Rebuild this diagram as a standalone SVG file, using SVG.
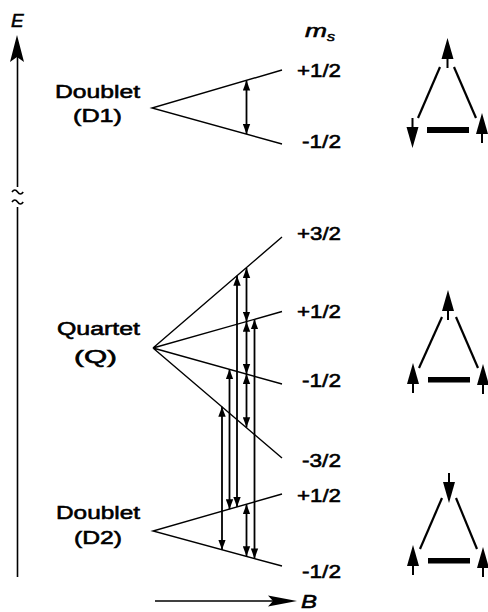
<svg xmlns="http://www.w3.org/2000/svg" xmlns:xlink="http://www.w3.org/1999/xlink" width="488" height="612" viewBox="0 0 488 612">
<style>
.lvl{stroke:#000;stroke-width:1.4;fill:none}
.ax{stroke:#000;stroke-width:1.6;fill:none}
.tr{stroke:#000;stroke-width:1.8;fill:none;marker-start:url(#ah);marker-end:url(#ah)}
.tri{stroke:#000;stroke-width:2.2;fill:none}
.lab{font-family:"Liberation Sans",Arial,sans-serif;font-size:18px;fill:#000;stroke:#000;stroke-width:0.55}
.it{font-style:italic}
</style>
<defs>
<marker id="ah" markerUnits="userSpaceOnUse" markerWidth="11" markerHeight="8" refX="10" refY="4" orient="auto-start-reverse">
<path d="M0,0.3 L10,4 L0,7.7 Z" fill="#000"/>
</marker>
<g id="spin">
<polygon points="0,0 -6,21 6,21" fill="#000"/>
<line x1="0" y1="18" x2="0" y2="30" stroke="#000" stroke-width="2"/>
</g>
</defs>
<rect width="488" height="612" fill="#fff"/>

<g id="axis-E">
<polygon points="17,35 10,62 17,57 24,62" fill="#000"/>
<line class="ax" x1="17.5" y1="57" x2="17.5" y2="187"/>
<path class="ax" d="M12,192 q2.8,-4 5.6,0 t5.6,0"/>
<path class="ax" d="M12,202 q2.8,-4 5.6,0 t5.6,0"/>
<line class="ax" x1="17.5" y1="207" x2="17.5" y2="577"/>
<text class="lab it" x="11" y="27" style="font-size:19px">E</text>
</g>

<g id="axis-B">
<line class="ax" x1="155" y1="601" x2="274" y2="601"/>
<polygon points="297,601 268,595.5 273,601 268,606.5" fill="#000"/>
<text class="lab it" x="301" y="608" style="font-size:19px" textLength="16" lengthAdjust="spacingAndGlyphs">B</text>
</g>

<g id="ms-label">
<text class="lab it" x="305" y="37" textLength="22" lengthAdjust="spacingAndGlyphs">m</text>
<text class="lab it" x="327" y="41" style="font-size:13px" textLength="8" lengthAdjust="spacingAndGlyphs">s</text>
</g>

<g id="D1">
<path class="lvl" d="M282,70 L152,108 L282,144"/>
<text class="lab" x="55" y="97.5" textLength="85" lengthAdjust="spacingAndGlyphs">Doublet</text>
<text class="lab" x="73" y="121.5" textLength="49" lengthAdjust="spacingAndGlyphs">(D1)</text>
<text class="lab" x="297" y="77" textLength="44" lengthAdjust="spacingAndGlyphs">+1/2</text>
<text class="lab" x="302" y="148" textLength="39" lengthAdjust="spacingAndGlyphs">-1/2</text>
</g>

<g id="Q">
<path class="lvl" d="M282,237 L153,348 L282,311.5 M153,348 L282,384 M153,348 L282,458"/>
<text class="lab" x="57" y="335" textLength="83" lengthAdjust="spacingAndGlyphs">Quartet</text>
<text class="lab" x="74" y="362.5" textLength="43" lengthAdjust="spacingAndGlyphs">(Q)</text>
<text class="lab" x="297" y="240" textLength="44" lengthAdjust="spacingAndGlyphs">+3/2</text>
<text class="lab" x="297" y="318" textLength="44" lengthAdjust="spacingAndGlyphs">+1/2</text>
<text class="lab" x="302" y="387" textLength="39" lengthAdjust="spacingAndGlyphs">-1/2</text>
<text class="lab" x="302" y="467" textLength="39" lengthAdjust="spacingAndGlyphs">-3/2</text>
</g>

<g id="D2">
<path class="lvl" d="M282,494 L153,531 L282,566"/>
<text class="lab" x="56" y="519" textLength="84" lengthAdjust="spacingAndGlyphs">Doublet</text>
<text class="lab" x="74" y="544" textLength="48" lengthAdjust="spacingAndGlyphs">(D2)</text>
<text class="lab" x="297" y="502" textLength="44" lengthAdjust="spacingAndGlyphs">+1/2</text>
<text class="lab" x="302" y="578" textLength="39" lengthAdjust="spacingAndGlyphs">-1/2</text>
</g>

<g id="transitions">
<line class="tr" x1="246.5" y1="80.5" x2="246.5" y2="134"/>
<line class="tr" x1="246.5" y1="268" x2="246.5" y2="321.7"/>
<line class="tr" x1="246.5" y1="321.7" x2="246.5" y2="374"/>
<line class="tr" x1="246.5" y1="374" x2="246.5" y2="427.3"/>
<line class="tr" x1="246.5" y1="504.3" x2="246.5" y2="556.2"/>
<line class="tr" x1="237" y1="275.7" x2="237" y2="506.9"/>
<line class="tr" x1="229.5" y1="369.2" x2="229.5" y2="509.2"/>
<line class="tr" x1="222" y1="406.8" x2="222" y2="549.7"/>
<line class="tr" x1="254.5" y1="319.4" x2="254.5" y2="558.4"/>
</g>

<g id="spin-D1">
<line class="tri" x1="440" y1="67" x2="418" y2="118"/>
<line class="tri" x1="454" y1="67" x2="476" y2="118"/>
<rect x="427" y="127" width="42" height="6" fill="#000"/>
<use xlink:href="#spin" x="447.5" y="38"/>
<use xlink:href="#spin" transform="translate(412.5,148) rotate(180)"/>
<use xlink:href="#spin" x="482" y="113"/>
</g>

<g id="spin-Q">
<line class="tri" x1="442" y1="317" x2="419" y2="368"/>
<line class="tri" x1="456" y1="317" x2="478" y2="368"/>
<rect x="428" y="377" width="42" height="5.5" fill="#000"/>
<use xlink:href="#spin" x="448" y="290"/>
<use xlink:href="#spin" x="413" y="363"/>
<use xlink:href="#spin" x="483" y="364"/>
</g>

<g id="spin-D2">
<line class="tri" x1="442" y1="498" x2="420" y2="549"/>
<line class="tri" x1="456" y1="498" x2="477" y2="549"/>
<rect x="428" y="558" width="42" height="5.5" fill="#000"/>
<use xlink:href="#spin" transform="translate(449,503) rotate(180)"/>
<use xlink:href="#spin" x="413" y="545"/>
<use xlink:href="#spin" x="483" y="547"/>
</g>
</svg>
